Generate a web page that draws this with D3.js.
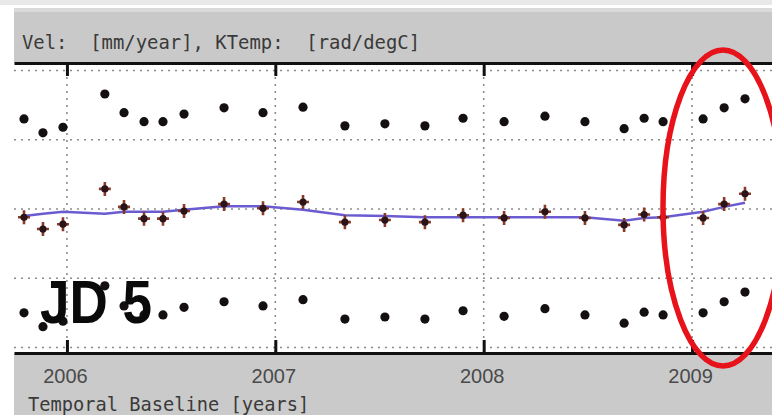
<!DOCTYPE html>
<html>
<head>
<meta charset="utf-8">
<script src="https://d3js.org/d3.v7.min.js"></script>
<style>
  body { margin: 0; background: white; }
  #container { width: 772px; height: 415px; overflow: hidden; }
</style>
</head>
<body>
<div id="container"></div>
<script>
// acquisition dates (decimal years)
let dates = [2005.794, 2005.885, 2005.981, 2006.182, 2006.274, 2006.370, 2006.461, 2006.562,
  2006.754, 2006.941, 2007.133, 2007.334, 2007.526, 2007.718, 2007.901, 2008.098,
  2008.294, 2008.486, 2008.674, 2008.770, 2008.861, 2009.053, 2009.154, 2009.254];

// upper row of points
let topSeries = [13.0, 11.0, 11.8, 16.6, 13.9, 12.6, 12.6, 13.7,
  14.6, 13.9, 14.7, 12.0, 12.3, 12.0, 13.1, 12.6,
  13.4, 12.6, 11.6, 13.1, 12.6, 13.0, 14.6, 15.9];

// middle row (observed, crosses)
let midSeries = [-1.2, -2.9, -2.2, 2.9, 0.3, -1.4, -1.4, -0.3,
  0.7, 0.1, 1.0, -1.9, -1.6, -1.9, -0.9, -1.3,
  -0.4, -1.3, -2.3, -0.8, -1.2, -1.3, 0.7, 2.2];

// middle row model (blue line)
let modelSeries = [-1.0, -0.7, -0.4, -0.7, -0.4, -0.4, -0.4, -0.1,
  0.4, 0.4, -0.1, -0.9, -1.0, -1.2, -1.2, -1.2,
  -1.2, -1.2, -1.7, -1.3, -1.2, -0.4, 0.3, 0.9];

// lower row of points
let botSeries = [-15.0, -17.0, -16.2, -11.1, -14.0, -15.3, -15.3, -14.2,
  -13.4, -14.0, -13.1, -15.9, -15.6, -15.9, -14.7, -15.5,
  -14.4, -15.3, -16.5, -14.9, -15.3, -15.0, -13.4, -12.0];

let yearTicks = [2006, 2007, 2008, 2009];
let gridValues = [-20, -10, 0, 10, 20];

let titleText = "Vel:  [mm/year], KTemp:  [rad/degC]";
let xLabelText = "Temporal Baseline [years]";
let stampText = "JD 5";

let w = 772;
let h = 415;
let plotLeft = 14;
let plotTop = 63;
let plotBottom = 353;

let viz = d3.select("#container")
  .append("svg")
    .attr("width", w)
    .attr("height", h)
;

let xScale = d3.scaleLinear().domain([2005.746, 2009.47]).range([plotLeft, 790]);
let yScale = d3.scaleLinear().domain([-20.8, 21.08]).range([plotBottom, plotTop]);

// header bands
viz.append("rect").attr("x", 0).attr("y", 0).attr("width", w).attr("height", 5).attr("fill", "#e8e8e8");
viz.append("rect").attr("x", plotLeft).attr("y", 8).attr("width", w).attr("height", 4).attr("fill", "#dadada");
viz.append("rect").attr("x", plotLeft).attr("y", 12).attr("width", w).attr("height", plotTop - 12).attr("fill", "#c9c9c9");
// footer band
viz.append("rect").attr("x", plotLeft).attr("y", plotBottom).attr("width", w).attr("height", h - plotBottom).attr("fill", "#cacaca");
// plot area
viz.append("rect").attr("x", plotLeft).attr("y", plotTop).attr("width", w).attr("height", plotBottom - plotTop).attr("fill", "white");

viz.append("text")
  .text(titleText)
  .attr("x", 22)
  .attr("y", 49)
  .attr("font-family", "DejaVu Sans Mono, Liberation Mono, monospace")
  .attr("font-size", "18.9px")
  .attr("fill", "#3a3a3a")
  .style("white-space", "pre")
;

// dotted grid
let grid = viz.append("g").attr("class", "grid");
grid.selectAll(".hgrid").data(gridValues).enter()
  .append("line")
    .attr("class", "hgrid")
    .attr("x1", plotLeft)
    .attr("x2", w)
    .attr("y1", function(d){ return yScale(d); })
    .attr("y2", function(d){ return yScale(d); })
    .attr("stroke", "#8c8c8c")
    .attr("stroke-width", 1.6)
    .attr("stroke-dasharray", "2,5")
;
grid.selectAll(".vgrid").data(yearTicks).enter()
  .append("line")
    .attr("class", "vgrid")
    .attr("x1", function(d){ return xScale(d); })
    .attr("x2", function(d){ return xScale(d); })
    .attr("y1", plotTop)
    .attr("y2", plotBottom)
    .attr("stroke", "#8c8c8c")
    .attr("stroke-width", 1.6)
    .attr("stroke-dasharray", "2,5")
;

// axes top and bottom, ticks pointing inward
let xAxisBottom = d3.axisBottom(xScale).tickValues(yearTicks).tickFormat(d3.format("d"))
  .tickSizeInner(-13).tickSizeOuter(0).tickPadding(16);
let bottomGroup = viz.append("g").attr("class", "xaxis").attr("transform", "translate(0," + plotBottom + ")");
bottomGroup.call(xAxisBottom);
bottomGroup.select(".domain").attr("stroke", "#111").attr("stroke-width", 3);
bottomGroup.selectAll(".tick line").attr("stroke", "#111").attr("stroke-width", 3);
bottomGroup.selectAll(".tick text")
  .attr("font-family", "Liberation Sans, Arial, sans-serif")
  .attr("font-size", "20px")
  .attr("fill", "#4a4a4a")
  .attr("dx", "-2")
;

let xAxisTop = d3.axisTop(xScale).tickValues(yearTicks).tickFormat("")
  .tickSizeInner(-13).tickSizeOuter(0);
let topGroup = viz.append("g").attr("class", "xaxis-top").attr("transform", "translate(0," + plotTop + ")");
topGroup.call(xAxisTop);
topGroup.select(".domain").attr("stroke", "#111").attr("stroke-width", 3);
topGroup.selectAll(".tick line").attr("stroke", "#111").attr("stroke-width", 3);

viz.append("text")
  .text(xLabelText)
  .attr("x", 28)
  .attr("y", 411)
  .attr("font-family", "DejaVu Sans Mono, Liberation Mono, monospace")
  .attr("font-size", "18.7px")
  .attr("fill", "#3a3a3a")
;

// turn the arrays into rows for binding
function rows(values){
  return dates.map(function(d, i){
    return {t: d, v: values[i]};
  });
}

// model line (blue)
let line = d3.line()
  .x(function(d){ return xScale(d.t); })
  .y(function(d){ return yScale(d.v); })
;
viz.append("path")
  .datum(rows(modelSeries))
  .attr("d", line)
  .attr("fill", "none")
  .attr("stroke", "#6a5cd0")
  .attr("stroke-width", 2.5)
;

// middle markers: red cross with dark centre
let midGroups = viz.selectAll(".mid").data(rows(midSeries)).enter()
  .append("g")
    .attr("class", "mid")
    .attr("transform", function(d){ return "translate(" + xScale(d.t) + "," + yScale(d.v) + ")"; })
;
midGroups.append("path")
  .attr("d", "M-6,0L6,0M0,-7L0,7")
  .attr("stroke", "#8a3a2a")
  .attr("stroke-width", 2.6)
;
midGroups.append("circle")
  .attr("r", 3.6)
  .attr("fill", "#2a1418")
;

// upper and lower dots
function drawDots(values, cls){
  viz.selectAll("." + cls).data(rows(values)).enter()
    .append("circle")
      .attr("class", cls)
      .attr("cx", function(d){ return xScale(d.t); })
      .attr("cy", function(d){ return yScale(d.v); })
      .attr("r", 4.6)
      .attr("fill", "#141012")
  ;
}
drawDots(topSeries, "topdot");
drawDots(botSeries, "botdot");

// big stamp
viz.append("text")
  .text(stampText)
  .attr("x", 40)
  .attr("y", 323)
  .attr("textLength", 112)
  .attr("lengthAdjust", "spacingAndGlyphs")
  .attr("font-family", "Liberation Sans, Arial, sans-serif")
  .attr("font-weight", "bold")
  .attr("font-size", "62px")
  .attr("fill", "#0a0a0a")
;

// red highlight ellipse
viz.append("ellipse")
  .attr("cx", 723)
  .attr("cy", 208)
  .attr("rx", 60)
  .attr("ry", 158)
  .attr("fill", "none")
  .attr("stroke", "#e8121a")
  .attr("stroke-width", 5.5)
;
</script>
</body>
</html>
